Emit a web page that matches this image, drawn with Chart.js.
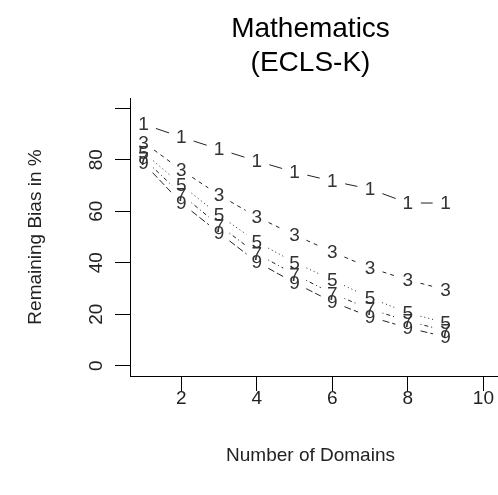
<!DOCTYPE html>
<html>
<head>
<meta charset="utf-8">
<script src="https://cdn.jsdelivr.net/npm/chart.js@4/dist/chart.umd.min.js"></script>
<style>
  html, body { margin: 0; padding: 0; background: #fff; }
  #wrap { width: 498px; height: 495px; }
</style>
</head>
<body>
<div id="wrap"><canvas id="chart" width="498" height="495"></canvas></div>
<script>
// ---- data ----
const domains = [1, 2, 3, 4, 5, 6, 7, 8, 9];
const bias1 = [93.8, 88.8, 84.1, 79.5, 75.2, 71.7, 68.6, 63.2, 63.2];
const bias3 = [86.8, 76.0, 66.3, 57.8, 50.8, 44.2, 38.0, 33.3, 29.5];
const bias5 = [82.9, 70.2, 58.5, 48.1, 40.1, 33.3, 26.4, 20.5, 16.7];
const bias7 = [80.5, 66.5, 54.5, 43.5, 35.5, 28.0, 22.0, 17.3, 13.6];
const bias9 = [78.7, 63.2, 51.6, 40.3, 32.2, 24.8, 19.0, 14.7, 11.2];
const seriesLabels = ['1', '3', '5', '7', '9'];
const xTicks = [2, 4, 6, 8, 10];
const yTicks = [0, 20, 40, 60, 80, 100];
const yTickLabels = ['0', '20', '40', '60', '80', ''];

const FONT = "'Liberation Sans', Arial, sans-serif";
const INK = '#222';

// R lty 1..5 look
const dashes = [[], [4, 4], [1, 3], [1, 3, 4, 3], [7, 3]];

const allSeries = [bias1, bias3, bias5, bias7, bias9];

// matplot type="b": gapped segments plus the character at each point
const typeB = {
    id: 'typeB',
    afterDatasetsDraw(chart) {
        const ctx = chart.ctx;
        const gap = 13;
        ctx.save();
        chart.data.datasets.forEach((ds, i) => {
            const pts = chart.getDatasetMeta(i).data;
            ctx.strokeStyle = INK;
            ctx.lineWidth = 1;
            ctx.setLineDash(dashes[i]);
            for (let k = 0; k < pts.length - 1; k++) {
                const a = pts[k], b = pts[k + 1];
                const dx = b.x - a.x, dy = b.y - a.y;
                const d = Math.hypot(dx, dy);
                if (d <= 2 * gap) continue;
                const ux = dx / d, uy = dy / d;
                ctx.beginPath();
                ctx.moveTo(a.x + ux * gap, a.y + uy * gap);
                ctx.lineTo(b.x - ux * gap, b.y - uy * gap);
                ctx.stroke();
            }
            ctx.setLineDash([]);
            ctx.fillStyle = '#333';
            ctx.font = '19px ' + FONT;
            ctx.textAlign = 'center';
            ctx.textBaseline = 'middle';
            pts.forEach(p => ctx.fillText(seriesLabels[i], p.x, p.y + 1));
        });
        ctx.restore();
    }
};

// titles and tick labels in R's placement
const labels = {
    id: 'labels',
    afterDraw(chart) {
        const ctx = chart.ctx;
        const { left, right, top, bottom } = chart.chartArea;
        const cx = (left + right) / 2;
        const cy = (top + bottom) / 2;
        const xs = chart.scales.x, ys = chart.scales.y;
        ctx.save();
        ctx.fillStyle = '#000';
        ctx.textAlign = 'center';
        ctx.textBaseline = 'middle';
        ctx.font = '28px ' + FONT;
        ctx.fillText('Mathematics', cx - 3, 29);
        ctx.fillText('(ECLS-K)', cx - 3, 63);

        ctx.fillStyle = INK;
        ctx.font = '19px ' + FONT;
        xTicks.forEach(v => ctx.fillText(String(v), xs.getPixelForValue(v), 399));
        yTicks.forEach((v, i) => {
            if (!yTickLabels[i]) return;
            ctx.save();
            ctx.translate(97, ys.getPixelForValue(v));
            ctx.rotate(-Math.PI / 2);
            ctx.fillText(yTickLabels[i], 0, 0);
            ctx.restore();
        });

        ctx.fillText('Number of Domains', cx - 3, 456);
        ctx.translate(36, cy);
        ctx.rotate(-Math.PI / 2);
        ctx.fillText('Remaining Bias in %', 0, 0);
        ctx.restore();
    }
};

new Chart(document.getElementById('chart'), {
    type: 'scatter',
    data: {
        datasets: allSeries.map((vals, i) => ({
            label: seriesLabels[i],
            data: domains.map((d, k) => ({ x: d, y: vals[k] })),
            pointRadius: 0,
            showLine: false,
        })),
    },
    options: {
        responsive: false,
        animation: false,
        layout: { padding: { top: 98, right: 1, left: 0, bottom: 0 } },
        plugins: { legend: { display: false }, tooltip: { enabled: false }, title: { display: false } },
        scales: {
            x: {
                type: 'linear',
                min: 0.64,
                max: 10.36,
                afterBuildTicks: s => { s.ticks = xTicks.map(v => ({ value: v })); },
                afterFit: s => { s.height = 119; },
                grid: { drawOnChartArea: false, drawTicks: true, tickLength: 15, color: '#000', lineWidth: 1 },
                border: { display: true, color: '#000', width: 1 },
                ticks: { color: 'transparent', font: { size: 1 } },
            },
            y: {
                type: 'linear',
                min: -4,
                max: 104,
                afterBuildTicks: s => { s.ticks = yTicks.map(v => ({ value: v })); },
                afterFit: s => { s.width = 130; },
                grid: { drawOnChartArea: false, drawTicks: true, tickLength: 15, color: '#000', lineWidth: 1 },
                border: { display: true, color: '#000', width: 1 },
                ticks: { color: 'transparent', font: { size: 1 } },
            },
        },
    },
    plugins: [typeB, labels],
});
</script>
</body>
</html>
